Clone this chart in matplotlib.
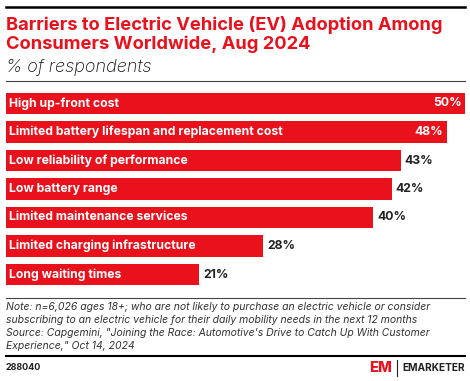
import matplotlib
matplotlib.use("Agg")
import matplotlib.pyplot as plt

# data
categories = [
    "High up-front cost",
    "Limited battery lifespan and replacement cost",
    "Low reliability of performance",
    "Low battery range",
    "Limited maintenance services",
    "Limited charging infrastructure",
    "Long waiting times",
]
values = [50, 48, 43, 42, 40, 28, 21]

title = "Barriers to Electric Vehicle (EV) Adoption Among\nConsumers Worldwide, Aug 2024"
subtitle = "% of respondents"
note = ("Note: n=6,026 ages 18+; who are not likely to purchase an electric vehicle or consider\n"
        "subscribing to an electric vehicle for their daily mobility needs in the next 12 months\n"
        "Source: Capgemini, \"Joining the Race: Automotive's Drive to Catch Up With Customer\n"
        "Experience,\" Oct 14, 2024")
chart_id = "288040"

RED = "#e8111c"
W, H = 470, 381
plt.rcParams['font.family'] = ['Inter', 'DejaVu Sans']

fig = plt.figure(figsize=(W / 100, H / 100), dpi=100)


def fx(x):
    return x / W


def fy(y):
    return 1 - y / H


# bars area
ax = fig.add_axes([fx(6), fy(288.75), fx(459), (288.75 - 89.25) / H])
ypos = list(range(len(categories)))
ax.barh(ypos, values, height=0.74, color=RED)
ax.set_xlim(0, 50)
ax.set_ylim(len(categories) - 0.5, -0.5)
ax.axis("off")

for i, (c, v) in enumerate(zip(categories, values)):
    ax.text(0.33, i, c, color="white", fontsize=8.8, fontweight="bold",
            va="center", ha="left")
    if v >= 48:
        ax.text(v - 0.4, i, f"{v}%", color="white", fontsize=8.8,
                fontweight="bold", va="center", ha="right")
    else:
        ax.text(v + 0.45, i, f"{v}%", color="#222222", fontsize=8.8,
                fontweight="bold", va="center", ha="left")

# header
fig.add_artist(plt.Line2D([fx(6), fx(465)], [fy(7), fy(7)], color="black", lw=1.8))
fig.text(fx(6), fy(16), title, color=RED, fontsize=13.2, fontweight="bold",
         va="top", ha="left", linespacing=1.08)
fig.text(fx(6), fy(59), subtitle, color="#111111", fontsize=13, style="italic",
         fontweight="light", va="top", ha="left")
fig.add_artist(plt.Line2D([fx(6), fx(465)], [fy(80.5), fy(80.5)], color="#444444", lw=0.8))

# footer
fig.add_artist(plt.Line2D([fx(6), fx(465)], [fy(297.5), fy(297.5)], color="#444444", lw=0.8))
fig.text(fx(6), fy(302), note, color="#333333", fontsize=7.5, style="italic",
         va="top", ha="left", linespacing=1.38)
fig.add_artist(plt.Line2D([fx(6), fx(465)], [fy(355.5), fy(355.5)], color="black", lw=1.5))
fig.text(fx(6), fy(368), chart_id, color="#222222", fontsize=6.5, fontweight="bold",
         va="center", ha="left")
fig.text(fx(369), fy(368), "EM", color=RED, fontsize=10.5, fontweight="heavy",
         va="center", ha="left")
fig.add_artist(plt.Line2D([fx(397), fx(397)], [fy(360), fy(376)], color="#222222", lw=0.8))
fig.text(fx(465), fy(368), "EMARKETER", color="#222222", fontsize=7.3, fontweight="bold",
         va="center", ha="right")

fig.savefig("out.png", dpi=100)
